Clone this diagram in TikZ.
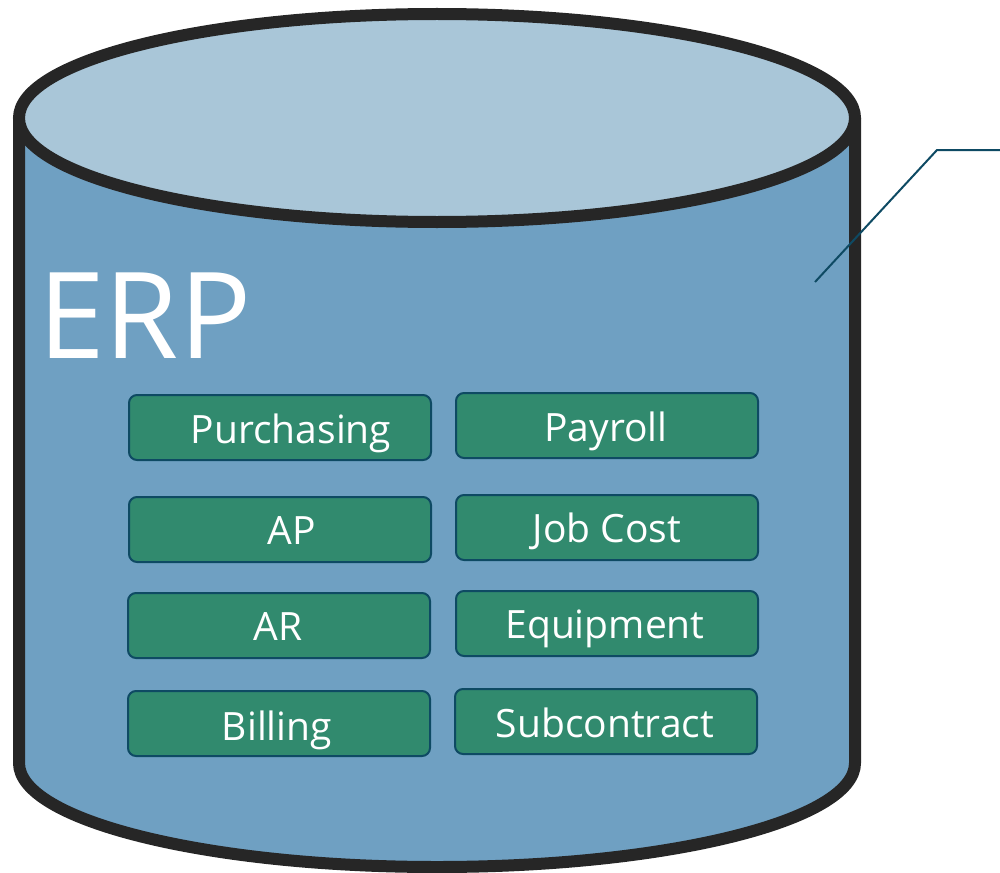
\documentclass[tikz,border=0pt]{standalone}
\usepackage{fontspec}
\setmainfont{Open Sans}
\definecolor{side}{HTML}{6FA0C2}
\definecolor{topc}{HTML}{A9C6D8}
\definecolor{edge}{HTML}{262626}
\definecolor{boxc}{HTML}{318A6E}
\definecolor{boxe}{HTML}{0E4A63}
\tikzset{
  mod/.style={draw=boxe, line width=2pt, fill=boxc, rounded corners=8pt, minimum width=302pt, minimum height=65pt, inner sep=0pt, anchor=north west},
  modtxt/.style={text=white, font=\fontsize{39}{42}\selectfont, anchor=base, inner sep=0pt},
}
\begin{document}
\begin{tikzpicture}[x=1pt,y=-1pt]
\useasboundingbox (0,0) rectangle (1000,872);
% body
\fill[side] (19,118) -- (19,763) arc[start angle=180, end angle=0, x radius=418, y radius=104] -- (855,118) -- cycle;
\draw[edge, line width=12pt] (19,118) -- (19,763) arc[start angle=180, end angle=0, x radius=418, y radius=104] -- (855,118);
\draw[edge, line width=12pt, fill=topc] (437,118) ellipse[x radius=418, y radius=104];
% ERP
\node[text=white, font=\fontsize{120}{126}\selectfont, anchor=base west, inner sep=0pt] (erp) at (38,358) {ERP};
% callout line
\coordinate (c1) at (815,282);
\coordinate (c2) at (937,150);
\coordinate (c3) at (1000,150);
\draw[boxe, line width=2pt] (c1) -- (c2) -- (c3);
% modules
\node[mod] (b1) at (128,394) {};
\node[mod] (b2) at (455,392) {};
\node[mod] (b3) at (128,496) {};
\node[mod] (b4) at (455,494) {};
\node[mod] (b5) at (127,592) {};
\node[mod] (b6) at (455,590) {};
\node[mod] (b7) at (127,690) {};
\node[mod] (b8) at (454,688) {};
\node[modtxt] (t1) at (291,443) {Purchasing};
\node[modtxt] (t2) at (606,441) {Payroll};
\node[modtxt] (t3) at (292,544) {AP};
\node[modtxt] (t4) at (607,542) {Job Cost};
\node[modtxt] (t5) at (278,640) {AR};
\node[modtxt] (t6) at (605,638) {Equipment};
\node[modtxt] (t7) at (277,740) {Billing};
\node[modtxt] (t8) at (605,737) {Subcontract};
\end{tikzpicture}
\end{document}
